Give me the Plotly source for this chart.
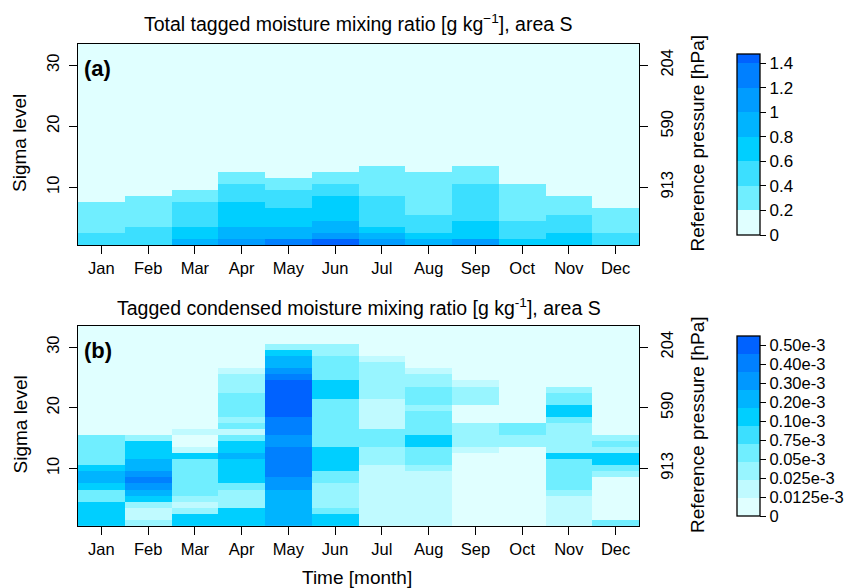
import numpy as np
import plotly.graph_objects as go

# ---------------- data ----------------
months = ["Jan", "Feb", "Mar", "Apr", "May", "Jun", "Jul", "Aug", "Sep", "Oct", "Nov", "Dec"]
month_pos = list(range(1, 13))
sigma_levels = list(range(1, 34))
sigma_ticks = [10, 20, 30]
pressure_labels = ["913", "590", "204"]

# (a) total tagged moisture mixing ratio [g/kg], sigma level 1..33 per month
total_jan = [0.50, 0.43, 0.38, 0.34, 0.30, 0.26, 0.22, 0.17, 0.13, 0.10, 0.08,
             0.06, 0.05, 0.04, 0.03, 0.02, 0.02, 0.01, 0.01, 0.01, 0.01, 0.01,
             0.01, 0, 0, 0, 0, 0, 0, 0, 0, 0, 0]
total_feb = [0.54, 0.47, 0.41, 0.37, 0.33, 0.29, 0.25, 0.21, 0.16, 0.12, 0.09,
             0.07, 0.05, 0.04, 0.03, 0.02, 0.02, 0.01, 0.01, 0.01, 0.01, 0.01,
             0.01, 0, 0, 0, 0, 0, 0, 0, 0, 0, 0]
total_mar = [0.86, 0.74, 0.63, 0.56, 0.50, 0.45, 0.41, 0.32, 0.24, 0.17, 0.12,
             0.09, 0.07, 0.05, 0.04, 0.03, 0.02, 0.02, 0.01, 0.01, 0.01, 0.01,
             0.01, 0, 0, 0, 0, 0, 0, 0, 0, 0, 0]
total_apr = [1.08, 0.92, 0.84, 0.76, 0.70, 0.65, 0.61, 0.54, 0.47, 0.41, 0.33,
             0.24, 0.17, 0.12, 0.09, 0.07, 0.05, 0.04, 0.03, 0.02, 0.02, 0.01,
             0.01, 0.01, 0, 0, 0, 0, 0, 0, 0, 0, 0]
total_may = [1.25, 0.95, 0.84, 0.75, 0.68, 0.62, 0.55, 0.48, 0.42, 0.33, 0.24,
             0.17, 0.12, 0.09, 0.07, 0.05, 0.04, 0.03, 0.02, 0.02, 0.01, 0.01,
             0.01, 0, 0, 0, 0, 0, 0, 0, 0, 0, 0]
total_jun = [1.45, 1.06, 0.93, 0.84, 0.76, 0.70, 0.65, 0.61, 0.52, 0.43, 0.34,
             0.24, 0.17, 0.12, 0.09, 0.07, 0.05, 0.04, 0.03, 0.02, 0.02, 0.01,
             0.01, 0.01, 0, 0, 0, 0, 0, 0, 0, 0, 0]
total_jul = [1.05, 0.88, 0.72, 0.58, 0.53, 0.49, 0.45, 0.41, 0.37, 0.33, 0.29,
             0.25, 0.21, 0.16, 0.12, 0.09, 0.07, 0.05, 0.04, 0.03, 0.02, 0.02,
             0.01, 0.01, 0.01, 0, 0, 0, 0, 0, 0, 0, 0]
total_aug = [0.85, 0.68, 0.56, 0.49, 0.42, 0.38, 0.35, 0.32, 0.29, 0.26, 0.23,
             0.21, 0.16, 0.12, 0.09, 0.07, 0.05, 0.04, 0.03, 0.02, 0.02, 0.01,
             0.01, 0.01, 0, 0, 0, 0, 0, 0, 0, 0, 0]
total_sep = [1.04, 0.76, 0.69, 0.62, 0.57, 0.53, 0.49, 0.46, 0.43, 0.41, 0.35,
             0.28, 0.22, 0.16, 0.12, 0.09, 0.07, 0.05, 0.04, 0.03, 0.02, 0.02,
             0.01, 0.01, 0.01, 0, 0, 0, 0, 0, 0, 0, 0]
total_oct = [0.66, 0.55, 0.48, 0.42, 0.37, 0.33, 0.29, 0.26, 0.23, 0.21, 0.16,
             0.12, 0.09, 0.07, 0.05, 0.04, 0.03, 0.02, 0.02, 0.01, 0.01, 0.01,
             0, 0, 0, 0, 0, 0, 0, 0, 0, 0, 0]
total_nov = [0.68, 0.62, 0.54, 0.47, 0.41, 0.34, 0.27, 0.21, 0.16, 0.12, 0.09,
             0.07, 0.05, 0.04, 0.03, 0.02, 0.02, 0.01, 0.01, 0.01, 0.01, 0,
             0, 0, 0, 0, 0, 0, 0, 0, 0, 0, 0]
total_dec = [0.49, 0.42, 0.36, 0.30, 0.25, 0.21, 0.16, 0.12, 0.09, 0.07, 0.05,
             0.04, 0.03, 0.02, 0.02, 0.01, 0.01, 0.01, 0.01, 0, 0, 0,
             0, 0, 0, 0, 0, 0, 0, 0, 0, 0, 0]

# (b) tagged condensed moisture mixing ratio [1e-3 g/kg]
cond_jan = [0.16, 0.15, 0.14, 0.13, 0.065, 0.06, 0.12, 0.22, 0.24, 0.13, 0.07,
            0.065, 0.06, 0.058, 0.055, 0.004, 0.003, 0.002, 0.002, 0.001, 0.001, 0.001,
            0, 0, 0, 0, 0, 0, 0, 0, 0, 0, 0]
cond_feb = [0.03, 0.018, 0.02, 0.035, 0.16, 0.26, 0.34, 0.44, 0.36, 0.28, 0.24,
            0.18, 0.15, 0.12, 0.04, 0.005, 0.003, 0.002, 0.001, 0.001, 0, 0,
            0, 0, 0, 0, 0, 0, 0, 0, 0, 0, 0]
cond_mar = [0.14, 0.12, 0.03, 0.02, 0.04, 0.06, 0.065, 0.07, 0.068, 0.062, 0.055,
            0.11, 0.015, 0.008, 0.006, 0.014, 0.004, 0.002, 0.001, 0.001, 0, 0,
            0, 0, 0, 0, 0, 0, 0, 0, 0, 0, 0]
cond_apr = [0.14, 0.13, 0.12, 0.04, 0.038, 0.045, 0.055, 0.12, 0.15, 0.17, 0.16,
            0.21, 0.16, 0.12, 0.065, 0.02, 0.055, 0.045, 0.06, 0.065, 0.07, 0.06,
            0.045, 0.04, 0.03, 0.015, 0.005, 0.003, 0.002, 0.001, 0, 0, 0]
cond_may = [0.24, 0.26, 0.27, 0.28, 0.27, 0.29, 0.32, 0.36, 0.42, 0.44, 0.46,
            0.45, 0.41, 0.38, 0.36, 0.42, 0.45, 0.48, 0.52, 0.56, 0.58, 0.57,
            0.55, 0.52, 0.46, 0.36, 0.28, 0.22, 0.14, 0.04, 0.005, 0.002, 0]
cond_jun = [0.13, 0.11, 0.06, 0.045, 0.04, 0.04, 0.045, 0.055, 0.07, 0.11, 0.13,
            0.14, 0.12, 0.07, 0.065, 0.06, 0.06, 0.055, 0.06, 0.065, 0.07, 0.11,
            0.13, 0.11, 0.07, 0.065, 0.06, 0.055, 0.045, 0.03, 0.004, 0.002, 0]
cond_jul = [0.016, 0.018, 0.02, 0.02, 0.022, 0.022, 0.02, 0.019, 0.02, 0.023, 0.03,
            0.04, 0.045, 0.055, 0.06, 0.055, 0.02, 0.02, 0.022, 0.023, 0.024, 0.03,
            0.035, 0.04, 0.04, 0.035, 0.03, 0.018, 0.006, 0.003, 0.002, 0.001, 0]
cond_aug = [0.015, 0.017, 0.018, 0.02, 0.02, 0.021, 0.022, 0.023, 0.024, 0.04, 0.06,
            0.065, 0.07, 0.11, 0.12, 0.07, 0.065, 0.06, 0.055, 0.045, 0.055, 0.06,
            0.055, 0.04, 0.03, 0.015, 0.005, 0.003, 0.002, 0.001, 0, 0, 0]
cond_sep = [0.002, 0.002, 0.003, 0.003, 0.004, 0.004, 0.005, 0.006, 0.007, 0.008, 0.009,
            0.01, 0.015, 0.03, 0.035, 0.04, 0.035, 0.01, 0.008, 0.01, 0.03, 0.035,
            0.03, 0.016, 0.006, 0.004, 0.002, 0.001, 0.001, 0, 0, 0, 0]
cond_oct = [0.001, 0.001, 0.002, 0.002, 0.003, 0.003, 0.004, 0.005, 0.006, 0.007, 0.008,
            0.009, 0.01, 0.035, 0.045, 0.055, 0.06, 0.008, 0.004, 0.002, 0.001, 0.001,
            0, 0, 0, 0, 0, 0, 0, 0, 0, 0, 0]
cond_nov = [0.015, 0.016, 0.018, 0.02, 0.022, 0.04, 0.055, 0.06, 0.065, 0.07, 0.07,
            0.11, 0.045, 0.04, 0.035, 0.04, 0.045, 0.06, 0.12, 0.13, 0.065, 0.055,
            0.035, 0.006, 0.003, 0.002, 0.001, 0, 0, 0, 0, 0, 0]
cond_dec = [0.055, 0.004, 0.004, 0.005, 0.006, 0.007, 0.008, 0.01, 0.03, 0.06, 0.12,
            0.14, 0.045, 0.055, 0.035, 0.006, 0.003, 0.002, 0.001, 0, 0, 0,
            0, 0, 0, 0, 0, 0, 0, 0, 0, 0, 0]

# colour levels
total_levels = [0, 0.2, 0.4, 0.6, 0.8, 1.0, 1.2, 1.4]
total_ticklabels = ["0", "0.2", "0.4", "0.6", "0.8", "1", "1.2", "1.4"]
total_max = 1.474
total_colors = ["#E0FFFF", "#70EEFF", "#3CDFFF", "#00CFFF", "#00B4FF", "#009CFF", "#0080FF", "#0062FF"]

cond_bounds = [0.0125, 0.025, 0.05, 0.075, 0.10, 0.20, 0.30, 0.40, 0.50]
cond_ticklabels = ["0", "0.0125e-3", "0.025e-3", "0.05e-3", "0.75e-3", "0.10e-3",
                   "0.20e-3", "0.30e-3", "0.40e-3", "0.50e-3"]
cond_colors = ["#E0FFFF", "#C0FAFF", "#98F5FF", "#70EEFF", "#3CDFFF", "#00CFFF",
               "#00B4FF", "#0098FF", "#0080FF", "#0062FF"]

# ---------------- build ----------------
total = np.array([total_jan, total_feb, total_mar, total_apr, total_may, total_jun,
                  total_jul, total_aug, total_sep, total_oct, total_nov, total_dec]).T
cond = np.array([cond_jan, cond_feb, cond_mar, cond_apr, cond_may, cond_jun,
                 cond_jul, cond_aug, cond_sep, cond_oct, cond_nov, cond_dec]).T
cond_band = np.digitize(cond, cond_bounds) + 0.5


def step_scale(edges, colors, vmax):
    cs = []
    for i, c in enumerate(colors):
        lo = edges[i] / vmax
        hi = (edges[i + 1] / vmax) if i + 1 < len(edges) else 1.0
        cs.append([lo, c])
        cs.append([min(hi, 1.0), c])
    return cs


total_cs = step_scale(total_levels, total_colors, total_max)
cond_cs = step_scale(list(range(10)), cond_colors, 10)

FONT = "Liberation Sans, Arial, Helvetica, sans-serif"
W, H = 852, 588
TOP, BOT = 44, 526
PH = BOT - TOP
L, R = 78, 639
PW = R - L


def py(px):  # pixel y from top -> paper y
    return (BOT - px) / PH


def pxp(px):  # pixel x -> paper x
    return (px - L) / PW


cb_common = dict(
    x=pxp(736.5), xanchor="left",
    yanchor="middle", lenmode="fraction", thicknessmode="pixels", thickness=22.5,
    xpad=0, ypad=0, outlinecolor="black", outlinewidth=1.3,
    ticks="outside", ticklen=6, tickcolor="black", tickwidth=1,
)

fig = go.Figure()
fig.add_trace(go.Heatmap(
    x=month_pos, y=sigma_levels, z=total, zmin=0, zmax=total_max,
    colorscale=total_cs, xaxis="x", yaxis="y",
    colorbar=dict(cb_common, y=py(144.6), len=181 / PH,
                  tickfont=dict(family=FONT, size=17, color="black"),
                  tickvals=total_levels, ticktext=total_ticklabels),
))
fig.add_trace(go.Heatmap(
    x=month_pos, y=sigma_levels, z=cond_band, zmin=0, zmax=10,
    colorscale=cond_cs, xaxis="x2", yaxis="y2",
    customdata=cond,
    hovertemplate="%{x} level %{y}: %{customdata} e-3<extra></extra>",
    colorbar=dict(cb_common, y=py(426), len=180 / PH,
                  tickfont=dict(family=FONT, size=16.5, color="black"),
                  tickvals=[i * 19 / 18 for i in range(10)], ticktext=cond_ticklabels),
))
# invisible helpers so the right-hand pressure axes are drawn
for ya in ("y3", "y4"):
    fig.add_trace(go.Scatter(x=month_pos, y=[sigma_ticks[0]] * len(month_pos),
                             mode="markers", marker=dict(opacity=0),
                             xaxis="x" if ya == "y3" else "x2", yaxis=ya,
                             showlegend=False, hoverinfo="skip"))

axis_common = dict(showline=True, linecolor="black", linewidth=1.4, mirror=True,
                   ticks="outside", ticklen=8, tickcolor="black", tickwidth=1,
                   showgrid=False, zeroline=False,
                   tickfont=dict(family=FONT, size=16.5, color="black"))
yleft = dict(axis_common, range=[0.5, 33.5], tickvals=sigma_ticks, tickangle=-90,
             autorange=False, type="linear", ticklabelstandoff=3)
xax = dict(axis_common, range=[0.5, 12.5], tickvals=month_pos, ticktext=months,
           autorange=False, type="linear")
yright = dict(showline=False, ticks="outside", ticklen=8, tickcolor="black", tickwidth=1,
              showgrid=False, zeroline=False, range=[0.5, 33.5], autorange=False,
              type="linear", tickmode="array", ticklabelstandoff=5,
              tickvals=sigma_ticks, ticktext=pressure_labels, tickangle=-90,
              side="right", tickfont=dict(family=FONT, size=16.5, color="black"))

da = [py(245.1), 1.0]
db = [0.0, py(325.9)]

fig.update_layout(
    width=W, height=H, autosize=False,
    margin=dict(l=L, r=W - R, t=TOP, b=H - BOT, pad=0, autoexpand=False),
    paper_bgcolor="white", plot_bgcolor="white",
    font=dict(family=FONT, color="black"),
    showlegend=False,
    xaxis=dict(xax, domain=[0, 1], anchor="y"),
    yaxis=dict(yleft, domain=da, anchor="x"),
    xaxis2=dict(xax, domain=[0, 1], anchor="y2"),
    yaxis2=dict(yleft, domain=db, anchor="x2"),
    yaxis3=dict(yright, overlaying="y", anchor="x"),
    yaxis4=dict(yright, overlaying="y2", anchor="x2"),
)

ann = []
def add_text(text, x, y, size, angle=0, bold=False, xanchor="center"):
    ann.append(dict(text=("<b>%s</b>" % text) if bold else text, x=x, y=y,
                    xref="paper", yref="paper", showarrow=False, textangle=angle,
                    xanchor=xanchor, yanchor="middle",
                    font=dict(family=FONT, size=size, color="black")))

add_text("Total tagged moisture mixing ratio [g kg<sup>\u22121</sup>], area S", pxp(358.5), py(23.5), 19.5)
add_text("Tagged condensed moisture mixing ratio [g kg<sup>-1</sup>], area S", pxp(358.5), py(306.5), 19.5)
add_text("(a)", pxp(82), py(68), 22, bold=True, xanchor="left")
add_text("(b)", pxp(82), py(350), 22, bold=True, xanchor="left")
add_text("Sigma level", pxp(19), py(143), 19, angle=-90)
add_text("Sigma level", pxp(19.5), py(425), 19, angle=-90)
add_text("Reference pressure [hPa]", pxp(697), py(142.5), 19, angle=-90)
add_text("Reference pressure [hPa]", pxp(697), py(424), 19, angle=-90)
add_text("Time [month]", pxp(357), py(577), 19)
fig.update_layout(annotations=ann)

fig.write_html("out.html")
